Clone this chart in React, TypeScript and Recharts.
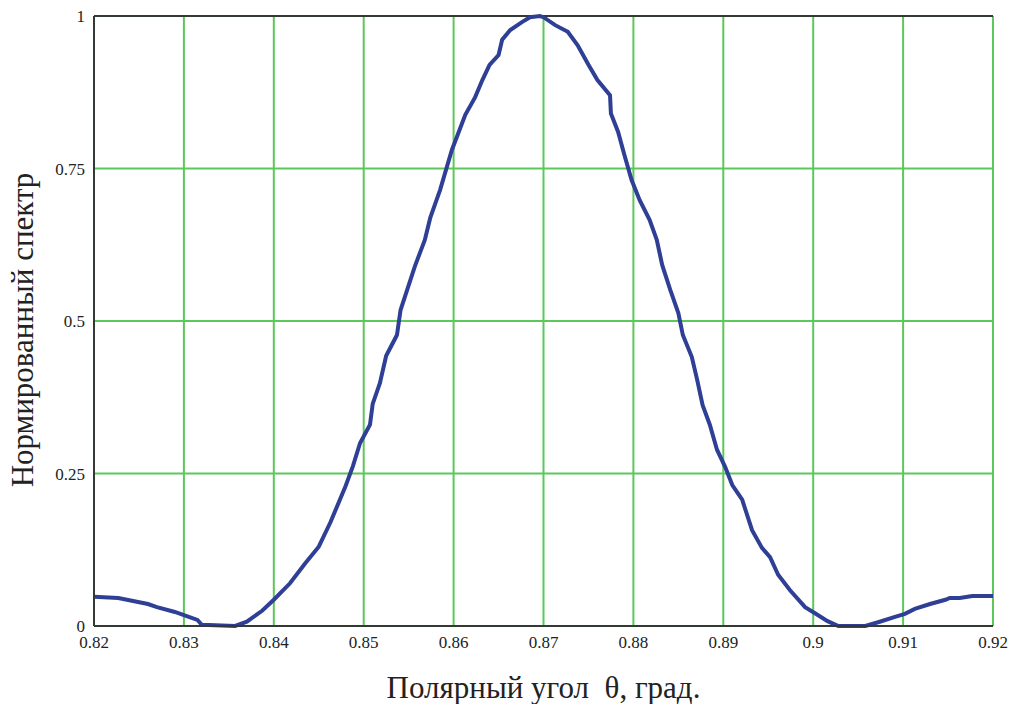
import React from 'react';
import {LineChart, Line, XAxis, YAxis, CartesianGrid, ReferenceLine, Label} from 'recharts';

const angles = [
    0.82, 0.8227, 0.826, 0.827, 0.829, 0.830, 0.8315, 0.832, 0.8357, 0.837, 0.8387, 0.840,
    0.8418, 0.8435, 0.845, 0.8463, 0.848, 0.8488, 0.8496, 0.8507, 0.851, 0.8518, 0.8525,
    0.8537, 0.8541, 0.8557, 0.8568, 0.8574, 0.8585, 0.8598, 0.8613, 0.8624, 0.8632, 0.864,
    0.865, 0.8654, 0.8663, 0.8676, 0.8685, 0.8696, 0.870, 0.8713, 0.8727, 0.8738, 0.875,
    0.876, 0.8774, 0.8775, 0.8783, 0.879, 0.8798, 0.8807, 0.8818, 0.8826, 0.8832, 0.8841,
    0.885, 0.8855, 0.8865, 0.8871, 0.8877, 0.8885, 0.8893, 0.8902, 0.891, 0.8921, 0.8932,
    0.8943, 0.8952, 0.8961, 0.8974, 0.8991, 0.9002, 0.9016, 0.9028, 0.9058, 0.9074, 0.9091,
    0.9102, 0.9113, 0.913, 0.9147, 0.9152, 0.9163, 0.9177, 0.92,
];

const spectrum = [
    0.048, 0.046, 0.036, 0.031, 0.023, 0.018, 0.010, 0.002, 0.0, 0.007, 0.025, 0.043,
    0.070, 0.103, 0.13, 0.17, 0.23, 0.262, 0.30, 0.33, 0.364, 0.398, 0.443,
    0.477, 0.518, 0.59, 0.633, 0.669, 0.715, 0.78, 0.838, 0.867, 0.895, 0.92,
    0.936, 0.961, 0.977, 0.99, 0.998, 1.0, 0.998, 0.985, 0.974, 0.952, 0.92,
    0.895, 0.87, 0.84, 0.81, 0.772, 0.731, 0.698, 0.666, 0.633, 0.592, 0.551,
    0.513, 0.477, 0.441, 0.403, 0.362, 0.33, 0.289, 0.261, 0.231, 0.207, 0.157,
    0.128, 0.113, 0.084, 0.059, 0.031, 0.021, 0.008, 0.0, 0.0, 0.007, 0.015,
    0.02, 0.028, 0.036, 0.043, 0.046, 0.046, 0.049, 0.049,
];

const xTicks = [0.82, 0.83, 0.84, 0.85, 0.86, 0.87, 0.88, 0.89, 0.9, 0.91, 0.92];
const yTicks = [0, 0.25, 0.5, 0.75, 1];

const xTitle = 'Полярный угол\u00a0 θ, град.';
const yTitle = 'Нормированный спектр';

const data = angles.map((a, i) => ({angle: a, value: spectrum[i]}));

const fmt = (v: number) => String(Number(v.toFixed(2)));

// plain <text> so the serif face actually sticks
const XTick = ({x, y, payload}: any) => (
    <text x={x} y={y} dy={14} textAnchor="middle" fontFamily="serif" fontSize={17} fill="#222">
        {fmt(payload.value)}
    </text>
);

const YTick = ({x, y, payload}: any) => (
    <text x={x} y={y} dy={6} textAnchor="end" fontFamily="serif" fontSize={17} fill="#222">
        {fmt(payload.value)}
    </text>
);

const XTitle = ({viewBox}: any) => (
    <text x={viewBox.x + viewBox.width / 2} y={viewBox.y + viewBox.height - 6} textAnchor="middle"
          fontFamily="serif" fontSize={31} fill="#222">
        {xTitle}
    </text>
);

const YTitle = ({viewBox}: any) => (
    <text transform={`translate(${viewBox.x + 25}, ${viewBox.y + viewBox.height / 2 + 9}) rotate(-90)`}
          textAnchor="middle" fontFamily="serif" fontSize={31} fill="#222">
        {yTitle}
    </text>
);

const App = (): JSX.Element => {
    return (
        <div style={{position: 'absolute', left: 0, top: 0, width: 1013, height: 704, overflow: 'hidden'}}>
            <LineChart
                width={1013}
                height={704}
                data={data}
                margin={{top: 16, right: 20, left: 8, bottom: 0}}
            >
                <CartesianGrid stroke="#5cc85a" strokeWidth={2} horizontalValues={yTicks} verticalValues={xTicks}/>
                <XAxis dataKey="angle" type="number" domain={[0.82, 0.92]} ticks={xTicks}
                       allowDataOverflow height={78} tickLine={false} axisLine={{stroke: '#333a33', strokeWidth: 2}}
                       tick={<XTick/>} tickMargin={2}>
                    <Label content={<XTitle/>}/>
                </XAxis>
                <YAxis type="number" domain={[0, 1]} ticks={yTicks} width={86}
                       tickLine={false} axisLine={{stroke: '#333a33', strokeWidth: 2}}
                       tick={<YTick/>} tickMargin={3}>
                    <Label content={<YTitle/>}/>
                </YAxis>
                <ReferenceLine y={1} stroke="#333a33" strokeWidth={2}/>
                <Line type="linear" dataKey="value" stroke="#2e3f95" strokeWidth={4} dot={false}
                      isAnimationActive={false}/>
            </LineChart>
        </div>
    );
}

export default App;
